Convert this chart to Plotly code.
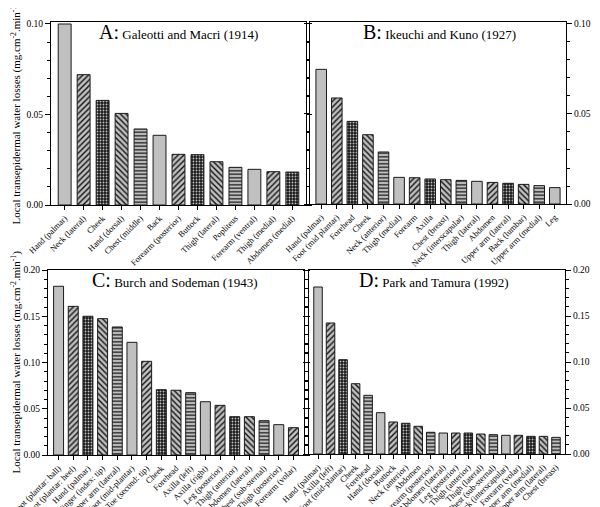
import plotly.graph_objects as go

labels_A = ["Hand (palmar)", "Neck (lateral)", "Cheek", "Hand (dorsal)", "Chest (middle)", "Back",
            "Forearm (posterior)", "Buttock", "Thigh (lateral)", "Popliteus", "Forearm (ventral)",
            "Thigh (medial)", "Abdomen (medial)"]
values_A = [0.100, 0.072, 0.0578, 0.0506, 0.042, 0.0385, 0.028, 0.0278, 0.0239, 0.0208, 0.0197, 0.0184, 0.0182]

labels_B = ["Hand (palmar)", "Foot (mid plantar)", "Forehead", "Cheek", "Neck (anterior)", "Thigh (medial)",
            "Forearm", "Axilla", "Chest (breast)", "Neck (interscapular)", "Thigh (lateral)", "Abdomen",
            "Upper arm (lateral)", "Back (lumbar)", "Upper arm (medial)", "Leg"]
values_B = [0.0748, 0.0589, 0.0459, 0.0385, 0.0289, 0.0148, 0.0146, 0.0139, 0.0135, 0.0131, 0.0126, 0.012,
            0.0115, 0.0109, 0.0102, 0.0091]

labels_C = ["Foot (plantar: ball)", "Foot (plantar: heel)", "Hand (palmar)", "Finger (index: tip)",
            "Upper arm (lateral)", "Foot (mid-plantar)", "Toe (second: tip)", "Cheek", "Forehead",
            "Axilla (left)", "Axilla (right)", "Leg (posterior)", "Thigh (anterior)", "Abdomen (lateral)",
            "Chest (sub-sternal)", "Thigh (posterior)", "Forearm (volar)"]
values_C = [0.1824, 0.1607, 0.150, 0.1474, 0.1384, 0.1218, 0.1013, 0.0706, 0.070, 0.0674, 0.0576, 0.0537,
            0.0414, 0.0414, 0.0371, 0.0328, 0.0295]

labels_D = ["Hand (palmar)", "Axilla (left)", "Foot (mid-plantar)", "Cheek", "Forehead", "Hand (dorsal)",
            "Buttock", "Neck (anterior)", "Abdomen", "Forearm (posterior)", "Abdomen (lateral)",
            "Leg (posterior)", "Thigh (anterior)", "Thigh (lateral)", "Chest (sub-sternal)",
            "Back (interscapular)", "Forearm (volar)", "Upper arm (medial)", "Upper arm (lateral)",
            "Chest (breast)"]
values_D = [0.1815, 0.1424, 0.1025, 0.0764, 0.0638, 0.0449, 0.0348, 0.0334, 0.0301, 0.0236, 0.0228, 0.0228,
            0.0228, 0.0217, 0.021, 0.0203, 0.0203, 0.0192, 0.0192, 0.0181]

titles = ["A:", "B:", "C:", "D:"]
sources = ["Galeotti and Macri (1914)", "Ikeuchi and Kuno (1927)", "Burch and Sodeman (1943)", "Park and Tamura (1992)"]

W, H = 600, 507
FONT = "Liberation Serif"
GRAY = "#c0c0c0"

def pat(i):
    k = i % 5
    if k == 0:
        return dict(shape="")
    if k == 1:
        return dict(shape="/", fgcolor="#111", bgcolor=GRAY, size=4, solidity=0.35)
    if k == 2:
        return dict(shape=".", fgcolor=GRAY, bgcolor="#1a1a1a", size=3, solidity=0.3)
    if k == 3:
        return dict(shape="\\", fgcolor="#111", bgcolor=GRAY, size=4, solidity=0.35)
    return dict(shape="-", fgcolor="#111", bgcolor=GRAY, size=3.5, solidity=0.35)

# panel geometry in pixels: (left, right, top, bottom)
geo = [(43, 298, 14, 197), (302, 558, 14, 196), (40, 296, 262, 447), (301, 557, 262, 446)]
title_x = [171, 431, 167, 426]
ymax_tick = [0.10, 0.10, 0.20, 0.20]
ytop = [0.1011, 0.1011, 0.2, 0.2]
sides = ["left", "right", "left", "right"]
data = [(labels_A, values_A), (labels_B, values_B), (labels_C, values_C), (labels_D, values_D)]

fig = go.Figure()
layout = dict(width=W, height=H, margin=dict(l=0, r=0, t=0, b=0, autoexpand=False), plot_bgcolor="white",
              paper_bgcolor="white", showlegend=False,
              font=dict(family=FONT, color="black"))
annotations = []
for p in range(4):
    labs, vals = data[p]
    n = len(labs)
    xa = "x" if p == 0 else f"x{p+1}"
    ya = "y" if p == 0 else f"y{p+1}"
    shapes = [pat(i) for i in range(n)]
    fig.add_trace(go.Bar(
        x=list(range(n)), y=vals, xaxis=xa, yaxis=ya, width=0.68,
        marker=dict(color=GRAY, line=dict(color="#1a1a1a", width=1),
                    pattern=dict(
                        shape=[s["shape"] for s in shapes],
                        fgcolor=[s.get("fgcolor", "#111") for s in shapes],
                        bgcolor=[s.get("bgcolor", GRAY) for s in shapes],
                        size=[s.get("size", 4) for s in shapes],
                        solidity=[s.get("solidity", 0.3) for s in shapes],
                        fillmode="replace"))))
    l, r, t, b = geo[p]
    xkey = "xaxis" if p == 0 else f"xaxis{p+1}"
    ykey = "yaxis" if p == 0 else f"yaxis{p+1}"
    layout[xkey] = dict(domain=[l / W, r / W], anchor=ya, range=[-0.72, n - 1 + 0.72], automargin=False,
                        tickmode="array", tickvals=list(range(n)), ticktext=labs, tickangle=-45,
                        ticks="outside", ticklen=4, tickcolor="black", showline=True, linecolor="black",
                        linewidth=1, mirror=True, showgrid=False, zeroline=False,
                        tickfont=dict(family=FONT, size=8.5, color="black"))
    step = 0.05
    m = int(round(ymax_tick[p] / step)) + 1
    layout[ykey] = dict(domain=[1 - b / H, 1 - t / H], anchor=xa, range=[0, ytop[p]], side=sides[p],
                        automargin=False, tickmode="array",
                        tickvals=[round(k * step, 2) for k in range(m)],
                        ticktext=[f"{k * step:.2f}" for k in range(m)],
                        ticks="outside", ticklen=5, tickcolor="black", showline=True, linecolor="black",
                        linewidth=1, mirror="ticks", showgrid=False, zeroline=False,
                        tickfont=dict(family=FONT, size=9.5, color="black"),
                        minor=dict(tickmode="linear", tick0=0, dtick=0.01, ticks="outside", ticklen=3,
                                   tickcolor="black", showgrid=False))
    annotations.append(dict(xref="paper", yref="paper", x=title_x[p] / W, y=1 - (t + 10) / H,
                            xanchor="center", yanchor="middle", showarrow=False,
                            text=f"<span style='font-size:20px'>{titles[p]}</span> {sources[p]}",
                            font=dict(family=FONT, size=13, color="black")))

ytitle = "Local transepidermal water losses (mg.cm<sup>-2</sup>.min<sup>-1</sup>)"
for p in range(4):
    l, r, t, b = geo[p]
    yc = 1 - (t + b) / 2 / H
    if sides[p] == "left":
        annotations.append(dict(xref="paper", yref="paper", x=8 / W, y=yc, xanchor="center",
                                yanchor="middle", showarrow=False, textangle=-90, text=ytitle,
                                font=dict(family=FONT, size=11, color="black")))
    else:
        annotations.append(dict(xref="paper", yref="paper", x=592 / W, y=yc, xanchor="center",
                                yanchor="middle", showarrow=False, textangle=90, text=ytitle,
                                font=dict(family=FONT, size=11, color="black")))
layout["annotations"] = annotations
fig.update_layout(**layout)
fig.write_html("out.html")
